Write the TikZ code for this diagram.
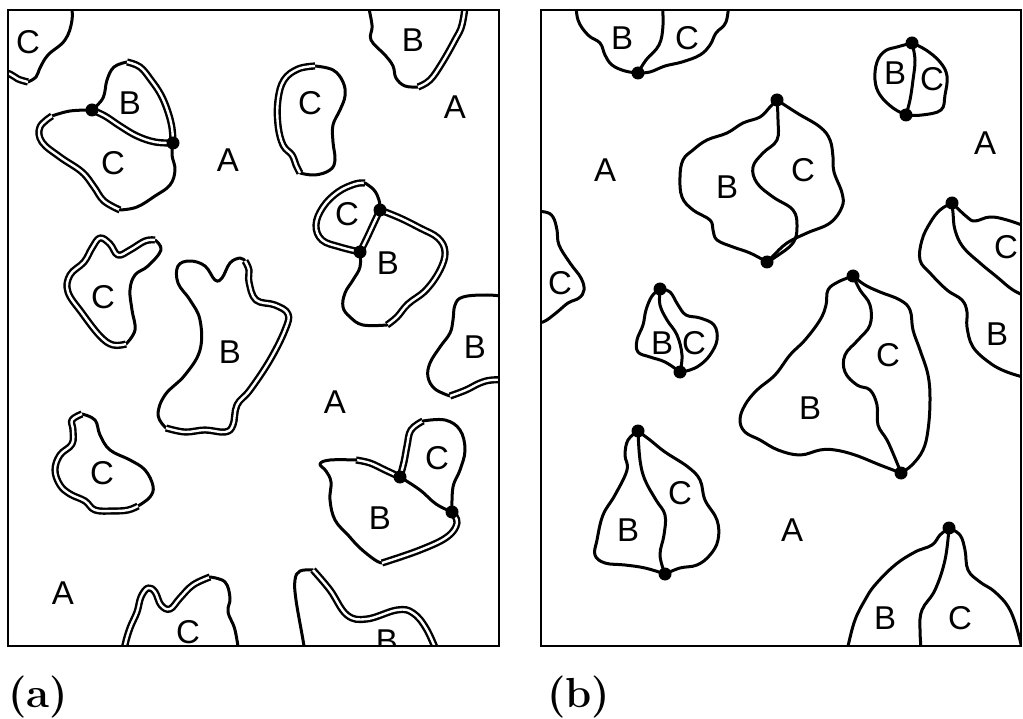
\documentclass[tikz,border=0pt]{standalone}
\usepackage{fontspec}
\newfontfamily\lblfont{Liberation Sans}
\begin{document}
\begin{tikzpicture}[x=1pt,y=-1pt,
  ln/.style={line width=3pt, line join=round, line cap=round},
  dbl/.style={line width=2.4pt, double=white, double distance=2.4pt, line cap=butt, line join=round},
  frm/.style={line width=2.4pt},
  lbl/.style={font=\fontsize{33}{33}\selectfont\lblfont, inner sep=0pt},
  captxt/.style={font=\fontsize{42}{42}\selectfont\bfseries, inner sep=0pt},
  dot/.style={circle, fill=black, inner sep=0pt, minimum size=13pt},
  every plot/.style={smooth, tension=0.65}]
\useasboundingbox (0,0) rectangle (1023,719);

% ---------------- panel (a) ----------------
\begin{scope}
\clip (8,10) rectangle (499,646);
% a1 top-left C
\draw[ln] plot coordinates {(71,0) (72,20) (65,40) (48,55) (40,68) (36,77) (28,82)};
\draw[dbl] plot coordinates {(28,82) (18,79) (10,74) (0,72)};
% a2 B-C pair
\coordinate (P1) at (92,110);
\coordinate (P2) at (173,143);
\draw[ln] plot coordinates {(P1) (103,98) (107,80) (114,67) (127,62)};
\draw[dbl] plot coordinates {(127,62) (140,67) (151,80) (161,95) (168,112) (172,128) (P2)};
\draw[dbl] plot coordinates {(P1) (105,116) (120,126) (137,136) (155,142) (P2)};
\draw[ln] plot coordinates {(P1) (70,111) (52,116)};
\draw[dbl] plot coordinates {(52,116) (40,127) (42,142) (60,157) (82,172) (94,187) (104,201) (120,210)};
\draw[ln] plot coordinates {(120,210) (137,207) (155,196) (170,185) (175,170) (172,155) (P2)};
% a3 top B
\draw[ln] plot coordinates {(367,0) (372,25) (371,40) (385,55) (393,66) (396,78) (405,86) (418,87)};
\draw[dbl] plot coordinates {(418,87) (430,80) (442,63) (455,40) (462,25) (466,0)};
% a4 C
\draw[ln] plot coordinates {(315,66) (333,70) (343,82) (345,96) (340,110) (333,125) (333,142) (335,160) (330,170) (315,175) (300,173)};
\draw[dbl] plot coordinates {(300,173) (296,165) (292,155) (283,145) (278,125) (278,100) (284,80) (298,69) (315,66)};
% a5 C-B pair
\coordinate (R1) at (380,210);
\coordinate (R2) at (360,252);
\draw[dbl] plot coordinates {(R2) (340,247) (322,240) (316,225) (323,207) (338,192) (355,184) (365,183)};
\draw[ln] plot coordinates {(365,183) (374,190) (379,200) (R1)};
\draw[dbl] plot coordinates {(R1) (373,225) (366,240) (R2)};
\draw[dbl] plot coordinates {(R1) (400,218) (420,228) (438,238) (445,252) (440,270) (426,290) (408,304) (397,317) (387,325)};
\draw[ln] plot coordinates {(387,325) (363,325) (350,317) (343,307) (345,293) (353,280) (360,267) (R2)};
% a6 right-edge B
\draw[ln] plot coordinates {(510,297) (487,295) (463,297) (455,305) (453,320) (450,333) (440,347) (430,363) (428,377) (435,389) (450,396)};
\draw[dbl] plot coordinates {(450,396) (466,390) (480,383) (492,380) (510,380)};
% a7 C
\draw[ln] plot coordinates {(155,240) (161,250) (148,266) (135,275) (130,290) (132,310) (135,330) (126,344)};
\draw[dbl] plot coordinates {(126,344) (113,345) (100,336) (82,313) (68,292) (70,275) (84,262) (92,248) (100,238) (110,244) (118,255) (130,250) (145,241) (155,240)};
% a8 big B
\draw[ln] plot coordinates {(166,428) (158,415) (165,395) (185,375) (200,350) (200,320) (190,300) (178,283) (178,266) (190,261) (205,266) (215,280) (222,278) (230,263) (240,258) (245,261)};
\draw[dbl] plot coordinates {(245,261) (249,270) (249,282) (256,300) (275,305) (288,314) (285,330) (270,360) (250,390) (237,405) (233,425) (225,432) (205,430) (185,432) (166,428)};
% a9 C
\draw[ln] plot coordinates {(82,414) (95,420) (100,435) (110,450) (130,460) (145,470) (153,486) (150,497) (138,506)};
\draw[dbl] plot coordinates {(138,506) (128,510) (113,511) (95,510) (85,501) (70,494) (60,485) (55,470) (60,455) (72,444) (73,430) (72,420) (82,414)};
% a10 bottom C
\draw[dbl] plot coordinates {(123,660) (125,645) (130,628) (137,612) (141,597) (148,588) (155,592) (161,605) (170,609) (180,598) (193,585) (210,577)};
\draw[ln] plot coordinates {(210,577) (225,582) (230,598) (228,612) (235,630) (240,660)};
% a11 bottom-right B
\draw[ln] plot coordinates {(306,660) (303,640) (296,600) (295,580) (300,571) (313,570)};
\draw[dbl] plot coordinates {(313,570) (330,590) (347,615) (367,619) (397,610) (413,613) (427,630) (440,660)};
% a12 B-C pair
\coordinate (T1) at (400,477);
\coordinate (T2) at (452,512);
\draw[dbl] plot coordinates {(T1) (404,462) (407,446) (411,430) (423,421)};
\draw[ln] plot coordinates {(423,421) (445,420) (460,430) (465,450) (460,470) (453,487) (T2)};
\draw[ln] plot coordinates {(T1) (420,490) (436,504) (T2)};
\draw[dbl] plot coordinates {(T1) (385,470) (370,463) (356,460)};
\draw[ln] plot coordinates {(356,460) (330,460) (320,464) (326,471) (331,482) (330,500) (335,520) (348,535) (360,548) (375,560) (382,563)};
\draw[dbl] plot coordinates {(382,563) (420,550) (447,537) (457,523) (T2)};
% labels
\node[lbl] (la1) at (28,42) {C};
\node[lbl] (la2) at (130,103) {B};
\node[lbl] (la3) at (113,163) {C};
\node[lbl] (la4) at (228,160) {A};
\node[lbl] (la5) at (413,40) {B};
\node[lbl] (la6) at (455,107) {A};
\node[lbl] (la7) at (310,103) {C};
\node[lbl] (la8) at (347,214) {C};
\node[lbl] (la9) at (388,263) {B};
\node[lbl] (la10) at (475,347) {B};
\node[lbl] (la11) at (103,297) {C};
\node[lbl] (la12) at (230,352) {B};
\node[lbl] (la13) at (335,402) {A};
\node[lbl] (la14) at (102,473) {C};
\node[lbl] (la15) at (437,458) {C};
\node[lbl] (la16) at (380,518) {B};
\node[lbl] (la17) at (63,593) {A};
\node[lbl] (la18) at (188,632) {C};
\node[lbl] (la19) at (387,641) {B};
\end{scope}
\foreach \p/\n in {P1/dp1,P2/dp2,R1/dr1,R2/dr2,T1/dt1,T2/dt2}
  \node[dot] (\n) at (\p) {};
\draw[frm] (8,10) rectangle (499,646);

% ---------------- panel (b) ----------------
\begin{scope}
\clip (541,10) rectangle (1021,646);
% b1
\coordinate (V1) at (638,73);
\draw[ln] plot coordinates {(576,0) (578,20) (588,35) (600,43) (605,55) (612,65) (625,71) (V1)};
\draw[ln] plot coordinates {(V1) (650,72) (665,66) (682,62) (700,55) (710,45) (716,33) (726,22) (729,0)};
\draw[ln] plot coordinates {(V1) (646,60) (659,45) (663,25) (662,0)};
% b2
\coordinate (W1) at (912,43);
\coordinate (W2) at (906,115);
\draw[ln] plot coordinates {(W1) (897,47) (885,51) (877,62) (875,80) (880,95) (893,108) (W2)};
\draw[ln] plot coordinates {(W1) (926,50) (940,62) (947,76) (945,95) (941,110) (922,115) (W2)};
\draw[ln] plot coordinates {(W1) (915,60) (913,80) (910,100) (W2)};
% b3
\coordinate (X1) at (777,100);
\coordinate (X2) at (767,262);
\draw[ln] plot coordinates {(X1) (770,107) (760,117) (743,123) (727,133) (707,140) (693,150) (683,160) (680,177) (682,197) (693,210) (710,220) (713,230) (717,240) (733,247) (750,253) (X2)};
\draw[ln] plot coordinates {(X1) (797,113) (820,127) (830,140) (833,157) (834,172) (842,193) (842,207) (830,223) (807,233) (787,243) (773,256) (X2)};
\draw[ln] plot coordinates {(X1) (778,120) (777,140) (763,153) (753,167) (757,183) (773,197) (793,210) (797,227) (793,243) (777,256) (X2)};
% b4 left-edge C
\draw[ln] plot coordinates {(530,212) (545,212) (553,217) (557,230) (559,245) (570,263) (581,278) (584,290) (579,298) (568,303) (556,313) (543,322) (530,323)};
% b5 right-edge B/C
\coordinate (Y1) at (952,203);
\draw[ln] plot coordinates {(Y1) (940,210) (930,223) (922,240) (920,260) (930,273) (947,290) (962,300) (967,312) (967,327) (973,347) (990,363) (1007,372) (1030,379)};
\draw[ln] plot coordinates {(Y1) (953,213) (955,230) (963,247) (980,263) (997,277) (1013,290) (1030,298)};
\draw[ln] plot coordinates {(Y1) (967,217) (975,221) (990,217) (1007,220) (1030,228)};
% b6
\coordinate (Z1) at (660,289);
\coordinate (Z2) at (680,372);
\draw[ln] plot coordinates {(Z1) (652,296) (646,310) (643,325) (637,340) (638,352) (650,357) (665,362) (Z2)};
\draw[ln] plot coordinates {(Z1) (670,292) (678,305) (686,315) (700,318) (714,325) (717,340) (710,355) (700,365) (690,370) (Z2)};
\draw[ln] plot coordinates {(Z1) (660,305) (667,320) (677,335) (682,355) (Z2)};
% b7
\coordinate (K1) at (853,276);
\coordinate (K2) at (901,473);
\draw[ln] plot coordinates {(K1) (838,282) (828,290) (826,305) (820,320) (805,340) (790,355) (775,375) (757,390) (745,405) (740,420) (745,432) (760,440) (778,450) (800,455) (820,450) (835,450) (855,455) (880,465) (K2)};
\draw[ln] plot coordinates {(K1) (865,285) (880,292) (900,300) (910,310) (913,330) (920,350) (928,375) (930,400) (928,430) (923,450) (912,465) (K2)};
\draw[ln] plot coordinates {(K1) (860,290) (870,305) (870,325) (858,340) (845,355) (845,372) (857,385) (870,390) (877,405) (878,425) (887,440) (895,458) (K2)};
% b8
\coordinate (L1) at (638,431);
\coordinate (L2) at (665,574);
\draw[ln] plot coordinates {(L1) (628,440) (625,455) (627,470) (615,495) (603,515) (597,540) (595,555) (605,563) (625,565) (645,568) (L2)};
\draw[ln] plot coordinates {(L1) (650,440) (665,452) (688,467) (700,480) (705,500) (717,520) (718,540) (710,555) (697,565) (680,568) (L2)};
\draw[ln] plot coordinates {(L1) (640,460) (645,480) (656,500) (665,515) (664,535) (660,555) (L2)};
% b9
\coordinate (M1) at (949,528);
\draw[ln] plot coordinates {(M1) (940,535) (932,545) (915,552) (895,565) (875,585) (865,600) (855,620) (848,646) (845,660)};
\draw[ln] plot coordinates {(M1) (960,535) (965,550) (968,570) (980,582) (995,592) (1010,610) (1020,640) (1023,660)};
\draw[ln] plot coordinates {(M1) (945,560) (935,590) (922,610) (920,630) (922,660)};
% labels
\node[lbl] (lb1) at (622,38) {B};
\node[lbl] (lb2) at (687,38) {C};
\node[lbl] (lb3) at (895,73) {B};
\node[lbl] (lb4) at (932,79) {C};
\node[lbl] (lb5) at (605,170) {A};
\node[lbl] (lb6) at (985,143) {A};
\node[lbl] (lb7) at (727,187) {B};
\node[lbl] (lb8) at (803,170) {C};
\node[lbl] (lb9) at (1006,247) {C};
\node[lbl] (lb10) at (560,283) {C};
\node[lbl] (lb11) at (662,343) {B};
\node[lbl] (lb12) at (694,343) {C};
\node[lbl] (lb13) at (888,355) {C};
\node[lbl] (lb14) at (810,408) {B};
\node[lbl] (lb15) at (997,334) {B};
\node[lbl] (lb16) at (680,493) {C};
\node[lbl] (lb17) at (628,530) {B};
\node[lbl] (lb18) at (792,530) {A};
\node[lbl] (lb19) at (885,618) {B};
\node[lbl] (lb20) at (960,618) {C};
\end{scope}
\foreach \p/\n in {V1/dv1,W1/dw1,W2/dw2,X1/dx1,X2/dx2,Y1/dy1,Z1/dz1,Z2/dz2,K1/dk1,K2/dk2,L1/dl1,L2/dl2,M1/dm1}
  \node[dot] (\n) at (\p) {};
\draw[frm] (541,10) rectangle (1021,646);

% captions
\node[captxt, anchor=west] (capa) at (8,697) {(a)};
\node[captxt, anchor=west] (capb) at (547,697) {(b)};
\end{tikzpicture}
\end{document}
